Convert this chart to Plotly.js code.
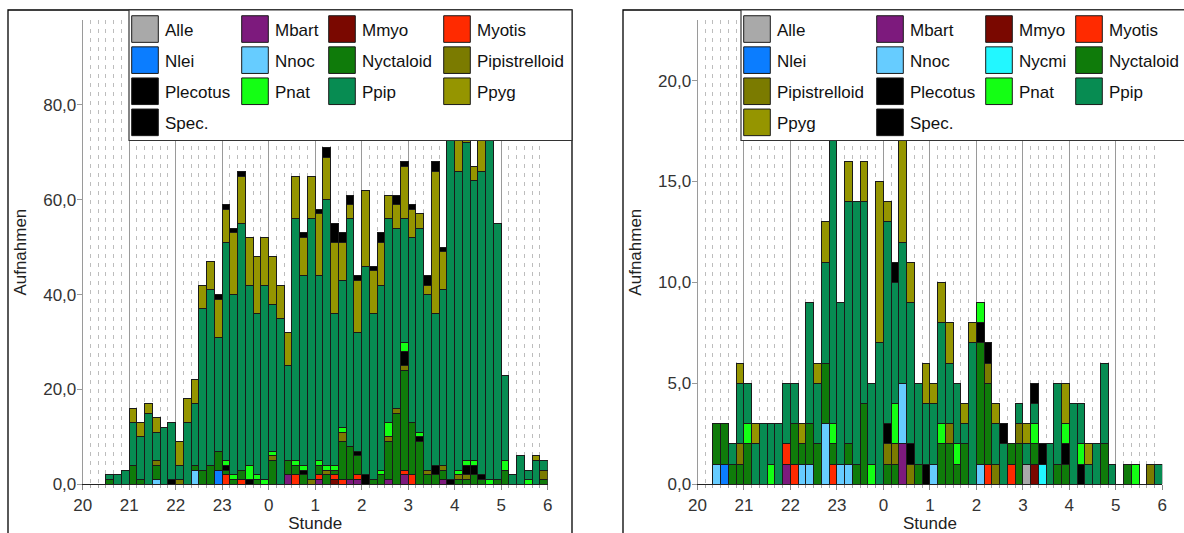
<!DOCTYPE html>
<html><head><meta charset="utf-8">
<script src="https://cdn.plot.ly/plotly-3.0.1.min.js"></script>
<style>html,body{margin:0;padding:0;background:#fff;}#chart{width:1184px;height:533px;}</style>
</head><body><div id="chart"></div>
<script>
// ---------- tick labels ----------
const hourTicks = [20,21,22,23,24,25,26,27,28,29,30];
const hourLabels = ['20','21','22','23','0','1','2','3','4','5','6'];

// ---------- species + colours ----------
const species = ['Alle','Mbart','Mmyo','Myotis','Nlei','Nnoc','Nycmi','Nyctaloid','Pipistrelloid','Plecotus','Pnat','Ppip','Ppyg','Spec.'];
const speciesColors = ['#a9a9a9','#7d1a7d','#7a0800','#ff2a00','#0b7dff','#66ccff','#22f7ff','#0f7b0a','#7b7b00','#000000','#14ff14','#078c52','#959500','#000000'];

// ---------- left panel: counts per 10-min bin (20:00 .. 05:50) ----------
const L_Alle = [0,0,0,0,0,0,0,0,0,0, 0,0,0,0,0,0,0,0,0,0, 0,0,0,0,0,0,0,0,0,0, 0,0,0,0,0,0,0,0,0,0, 0,0,0,0,0,0,0,0,0,0, 0,0,0,0,0,0,0,0,0,0];
const L_Mbart = [0,0,0,0,0,0,0,0,0,0, 0,0,0,0,0,0,0,0,0,0, 0,0,0,0,0,0,2,0,0,0, 1,0,0,0,1,1,0,0,0,1, 0,2,0,0,0,0,1,0,0,0, 0,0,0,0,0,0,0,0,0,0];
const L_Mmyo = [0,0,0,0,0,0,0,0,0,0, 0,0,0,0,0,0,0,0,0,0, 0,0,0,0,0,0,0,0,0,0, 0,0,1,0,0,0,0,0,0,0, 0,0,0,0,0,0,0,0,0,0, 0,0,0,0,0,0,0,0,0,0];
const L_Myotis = [0,0,0,0,0,0,0,0,0,0, 0,0,0,0,0,0,0,0,2,0, 1,0,0,0,0,0,0,2,0,0, 1,0,1,1,0,1,0,0,0,0, 0,1,2,0,0,0,0,0,0,0, 0,0,0,0,0,0,0,0,0,0];
const L_Nlei = [0,0,0,0,0,0,0,0,0,0, 0,0,0,0,0,0,0,3,0,0, 0,0,0,0,0,0,0,0,0,0, 0,0,0,0,0,0,0,0,0,0, 0,0,0,0,0,0,0,0,0,0, 0,0,0,0,0,0,0,0,0,0];
const L_Nnoc = [0,0,0,0,0,0,0,0,0,1, 0,0,0,0,3,0,0,0,0,0, 0,0,0,0,0,0,0,0,0,0, 0,0,0,0,0,0,0,0,0,0, 0,0,0,0,0,0,0,0,0,0, 0,0,0,0,0,0,0,0,0,0];
const L_Nyctaloid = [0,0,0,1,0,0,4,1,0,3, 0,0,0,0,1,3,4,4,1,1, 2,0,1,0,5,0,3,2,2,0, 2,2,1,8,7,4,0,1,2,8, 15,21,11,9,2,2,2,0,1,1, 2,1,0,1,3,0,0,0,0,1];
const L_Pipistrelloid = [0,0,0,0,0,0,0,0,0,1, 0,0,1,0,0,0,0,0,0,0, 0,0,0,0,1,0,0,0,0,1, 0,1,0,2,0,0,0,0,0,1, 1,1,0,0,1,0,1,0,1,1, 0,0,0,0,0,0,0,0,0,2];
const L_Plecotus = [0,0,0,0,0,0,0,0,0,0, 0,1,0,0,0,0,0,0,1,0, 0,1,0,0,0,0,0,0,1,0, 0,0,0,0,0,1,2,0,0,0, 0,3,0,1,0,2,0,1,0,2, 2,1,0,0,0,0,0,0,0,0];
const L_Pnat = [0,0,0,0,0,0,0,0,0,0, 0,0,0,0,0,0,0,0,1,1, 0,3,1,1,1,0,0,1,1,0, 1,1,1,1,0,0,0,0,1,3, 0,2,0,1,0,0,0,0,1,1, 1,0,1,0,2,0,0,1,0,0];
const L_Ppip = [0,0,0,1,2,3,9,9,15,6, 12,12,3,13,13,34,37,24,46,38, 52,38,34,41,31,35,20,51,40,55, 39,56,32,31,48,25,44,35,39,43, 38,26,39,43,37,32,37,79,63,67, 59,64,75,54,18,2,6,2,5,2];
const L_Ppyg = [0,0,0,0,0,0,3,3,2,3, 0,0,5,5,5,5,6,8,7,13, 10,10,12,10,10,7,7,9,8,9, 13,9,15,8,3,11,16,9,9,5, 5,11,6,3,2,30,8,0,19,6, 3,27,0,0,0,0,0,0,1,0];
const L_Spec = [0,0,0,0,0,0,0,0,0,0, 0,0,0,0,0,0,0,1,1,1, 1,0,0,0,0,0,0,0,1,0, 1,2,4,2,2,1,0,1,2,0, 2,1,1,0,2,2,1,0,0,0, 0,0,0,0,0,0,0,0,0,0];

// ---------- right panel ----------
const R_Alle = [0,0,0,0,0,0,0,0,0,0, 0,0,0,0,0,0,0,0,0,0, 0,0,0,0,0,0,0,0,0,0, 0,0,0,0,0,0,0,0,0,0, 0,0,1,0,0,0,0,0,0,0, 0,0,0,0,0,0,0,0,0,0];
const R_Mbart = [0,0,0,0,0,0,0,0,0,0, 0,1,0,0,0,0,0,0,0,0, 0,0,0,0,0,0,2,0,0,0, 0,0,0,0,0,0,0,0,0,0, 0,0,0,0,0,0,0,0,0,0, 0,0,0,0,0,0,0,0,0,0];
const R_Mmyo = [0,0,0,0,0,0,0,0,0,0, 0,0,0,0,0,0,0,0,0,0, 0,0,0,0,0,0,0,0,0,0, 0,0,0,0,0,0,0,0,0,0, 0,0,0,1,0,0,0,0,0,0, 0,0,0,0,0,0,0,0,0,0];
const R_Myotis = [0,0,0,0,0,0,0,0,0,0, 0,1,1,0,0,0,0,1,0,0, 0,0,0,0,0,0,0,0,0,0, 0,0,0,0,0,0,0,1,0,0, 1,0,0,0,0,0,0,0,0,0, 0,0,0,0,0,0,0,0,0,0];
const R_Nlei = [0,0,0,1,0,0,0,0,0,0, 0,0,0,0,0,0,0,0,0,0, 0,0,0,0,0,0,0,0,0,0, 0,0,0,0,0,0,0,0,0,0, 0,0,0,0,0,0,0,0,0,0, 0,0,0,0,0,0,0,0,0,0];
const R_Nnoc = [0,0,1,0,0,0,0,0,0,0, 0,0,0,1,1,0,3,0,1,1, 0,0,0,0,0,0,3,0,0,0, 1,0,0,0,0,0,1,0,0,0, 0,0,0,0,0,0,0,0,0,0, 0,0,0,0,0,0,0,0,0,0];
const R_Nycmi = [0,0,0,0,0,0,0,0,0,0, 0,0,0,0,0,0,0,0,0,0, 0,0,0,0,0,0,0,0,0,0, 0,0,0,0,0,0,0,0,0,0, 0,0,0,0,1,0,0,0,0,0, 0,0,0,0,0,0,0,0,0,0];
const R_Nyctaloid = [0,0,2,2,1,1,2,0,0,0, 0,0,2,1,2,2,3,1,0,1, 1,4,0,0,1,1,0,0,1,0, 0,2,2,1,2,0,6,4,0,0, 1,2,0,1,0,0,1,1,0,0, 0,0,2,0,0,1,0,0,0,0];
const R_Pipistrelloid = [0,0,0,0,0,1,0,0,0,0, 0,0,0,0,0,0,0,0,0,0, 0,0,0,0,1,1,0,1,0,0, 0,0,1,0,0,0,0,1,1,0, 0,1,0,0,0,0,0,0,0,0, 0,0,0,0,0,0,0,0,1,0];
const R_Plecotus = [0,0,0,0,0,0,0,0,0,0, 0,0,0,0,0,0,0,0,0,0, 0,0,0,0,1,0,0,1,0,1, 0,0,0,0,0,0,1,1,0,0, 0,0,0,0,1,0,0,1,0,1, 0,0,0,0,0,0,0,0,0,0];
const R_Pnat = [0,0,0,0,0,0,1,0,0,1, 0,0,0,0,0,0,0,1,0,0, 0,0,1,0,0,2,0,0,0,0, 0,1,0,1,0,0,1,0,0,0, 0,0,0,1,0,0,0,1,0,1, 0,0,0,0,0,0,1,0,0,0];
const R_Ppip = [0,0,0,0,1,3,2,2,3,2, 3,3,2,0,6,3,5,19,8,12, 13,10,4,7,10,6,7,7,4,3, 3,5,3,3,1,7,0,0,2,2, 0,1,1,1,0,2,4,0,4,2, 1,2,4,1,0,0,0,0,0,1];
const R_Ppyg = [0,0,0,0,0,1,0,1,0,0, 0,0,0,1,0,1,2,0,0,2, 0,2,0,8,1,0,6,2,0,2, 1,2,2,0,1,1,0,0,1,0, 0,0,1,0,0,0,0,2,0,0, 1,0,0,0,0,0,0,0,0,0];
const R_Spec = [0,0,0,0,0,0,0,0,0,0, 0,0,0,0,0,0,0,0,0,0, 0,0,0,0,0,1,0,0,0,0, 0,0,0,0,0,0,0,0,0,1, 0,0,0,1,0,0,0,0,0,0, 0,0,0,0,0,0,0,0,0,0];

const leftSeries = {'Alle':L_Alle,'Mbart':L_Mbart,'Mmyo':L_Mmyo,'Myotis':L_Myotis,'Nlei':L_Nlei,'Nnoc':L_Nnoc,'Nyctaloid':L_Nyctaloid,'Pipistrelloid':L_Pipistrelloid,'Plecotus':L_Plecotus,'Pnat':L_Pnat,'Ppip':L_Ppip,'Ppyg':L_Ppyg,'Spec.':L_Spec};
const rightSeries = {'Alle':R_Alle,'Mbart':R_Mbart,'Mmyo':R_Mmyo,'Myotis':R_Myotis,'Nlei':R_Nlei,'Nnoc':R_Nnoc,'Nycmi':R_Nycmi,'Nyctaloid':R_Nyctaloid,'Pipistrelloid':R_Pipistrelloid,'Plecotus':R_Plecotus,'Pnat':R_Pnat,'Ppip':R_Ppip,'Ppyg':R_Ppyg,'Spec.':R_Spec};

// legend columns (names per column)
const leftLegendCols = [['Alle','Nlei','Plecotus','Spec.'],['Mbart','Nnoc','Pnat'],['Mmyo','Nyctaloid','Ppip'],['Myotis','Pipistrelloid','Ppyg']];
const rightLegendCols = [['Alle','Nlei','Pipistrelloid','Ppyg'],['Mbart','Nnoc','Plecotus','Spec.'],['Mmyo','Nycmi','Pnat'],['Myotis','Nyctaloid','Ppip']];

// ---------- layout helpers ----------
const W = 1184, H = 533;
const FONT = 'Liberation Sans, Arial, Helvetica, sans-serif';
const binX = L_Ppip.map((_, i) => 20 + (i + 0.5) / 6);

function legendIdFor(cols, name, base) {
  for (let c = 0; c < cols.length; c++) if (cols[c].includes(name)) {
    const n = base + c; return n === 1 ? 'legend' : 'legend' + n;
  }
}

const traces = [];
function addPanel(series, cols, xa, ya, base, tag) {
  species.forEach((name, si) => {
    if (!(name in series)) return;
    traces.push({
      type: 'bar', name: name, x: binX, y: series[name], width: 1/6,
      xaxis: xa, yaxis: ya,
      marker: {color: speciesColors[si], line: {color: '#1a1a1a', width: 1}},
      legend: legendIdFor(cols, name, base), legendgroup: tag + name,
      hoverinfo: 'skip'
    });
  });
}
addPanel(leftSeries, leftLegendCols, 'x', 'y', 1, 'L');
addPanel(rightSeries, rightLegendCols, 'x2', 'y2', 5, 'R');

const yBottom = 1 - 484.3 / H, yTop = 1 - 20 / H;
function xAxis(d0, d1, anchor) {
  return {
    domain: [d0 / W, d1 / W], range: [20, 30], anchor: anchor,
    tickvals: hourTicks, ticktext: hourLabels,
    ticks: 'outside', ticklen: 5, tickcolor: '#888', ticklabelstandoff: 0,
    tickfont: {family: FONT, size: 17, color: '#333'},
    showline: true, linecolor: '#222', linewidth: 1,
    showgrid: true, gridcolor: '#9a9a9a', gridwidth: 1, zeroline: false,
    minor: {tick0: 20, dtick: 1/6, showgrid: true, gridcolor: '#bdbdbd', griddash: '4px,5px', gridwidth: 1, ticks: 'outside', ticklen: 3, tickcolor: '#aaa'},
    title: {text: 'Stunde', font: {family: FONT, size: 17, color: '#222'}, standoff: 15},
    automargin: false, fixedrange: true
  };
}
function yAxis(rmax, dt, anchor) {
  return {
    domain: [yBottom, yTop], range: [0, rmax], anchor: anchor, dtick: dt, tick0: 0,
    tickformat: '.1f', ticks: 'outside', ticklen: 5, tickcolor: '#999', ticklabelstandoff: -3,
    tickfont: {family: FONT, size: 17, color: '#333'},
    showline: true, linecolor: '#9a9a9a', linewidth: 1,
    showgrid: false, zeroline: false,
    title: {text: 'Aufnahmen', font: {family: FONT, size: 17, color: '#222'}, standoff: 12},
    automargin: false, fixedrange: true
  };
}

const legendTop = 11.5;
function legendCfg(xpx) {
  return {x: xpx / W, y: 1 - legendTop / H, xanchor: 'left', yanchor: 'top', orientation: 'v',
    traceorder: 'grouped', tracegroupgap: 6, bgcolor: 'rgba(0,0,0,0)', borderwidth: 0,
    font: {family: FONT, size: 17, color: '#111'}, itemclick: false, itemdoubleclick: false};
}
const legendXs = [125, 235, 322, 437, 737, 870, 979, 1069];

const layout = {
  width: W, height: H, margin: {l: 0, r: 0, t: 0, b: 0, autoexpand: false},
  paper_bgcolor: '#fff', plot_bgcolor: '#fff',
  font: {family: FONT, size: 17, color: '#222'},
  separators: ',.', barmode: 'stack', bargap: 0, hovermode: false, showlegend: true,
  xaxis: xAxis(82.7, 547.7, 'y'), yaxis: yAxis(97.9, 20, 'x'),
  xaxis2: xAxis(697.5, 1162.3, 'y2'), yaxis2: yAxis(23.0, 5, 'x2'),
  shapes: [
    {type: 'rect', xref: 'paper', yref: 'paper', x0: 8 / W, x1: 572 / W, y0: -0.05, y1: 1 - 10 / H, line: {color: '#000', width: 1.3}, layer: 'below'},
    {type: 'rect', xref: 'paper', yref: 'paper', x0: 623 / W, x1: 1.02, y0: -0.05, y1: 1 - 10 / H, line: {color: '#000', width: 1.3}, layer: 'below'},
    {type: 'rect', xref: 'paper', yref: 'paper', x0: 129 / W, x1: 572 / W, y0: 1 - 140.5 / H, y1: 1 - 10 / H, fillcolor: '#fff', line: {color: '#333', width: 1.2}, layer: 'above'},
    {type: 'rect', xref: 'paper', yref: 'paper', x0: 741 / W, x1: 1.02, y0: 1 - 140.5 / H, y1: 1 - 10 / H, fillcolor: '#fff', line: {color: '#333', width: 1.2}, layer: 'above'}
  ]
};
legendXs.forEach((px, i) => { layout[i === 0 ? 'legend' : 'legend' + (i + 1)] = legendCfg(px); });

Plotly.newPlot('chart', traces, layout, {staticPlot: true, displayModeBar: false}).then(gd => {
  gd.querySelectorAll('.legendpoints path').forEach(p => p.setAttribute('d', 'M13.3,13.3H-13.3V-13.3H13.3Z'));
});
</script></body></html>
